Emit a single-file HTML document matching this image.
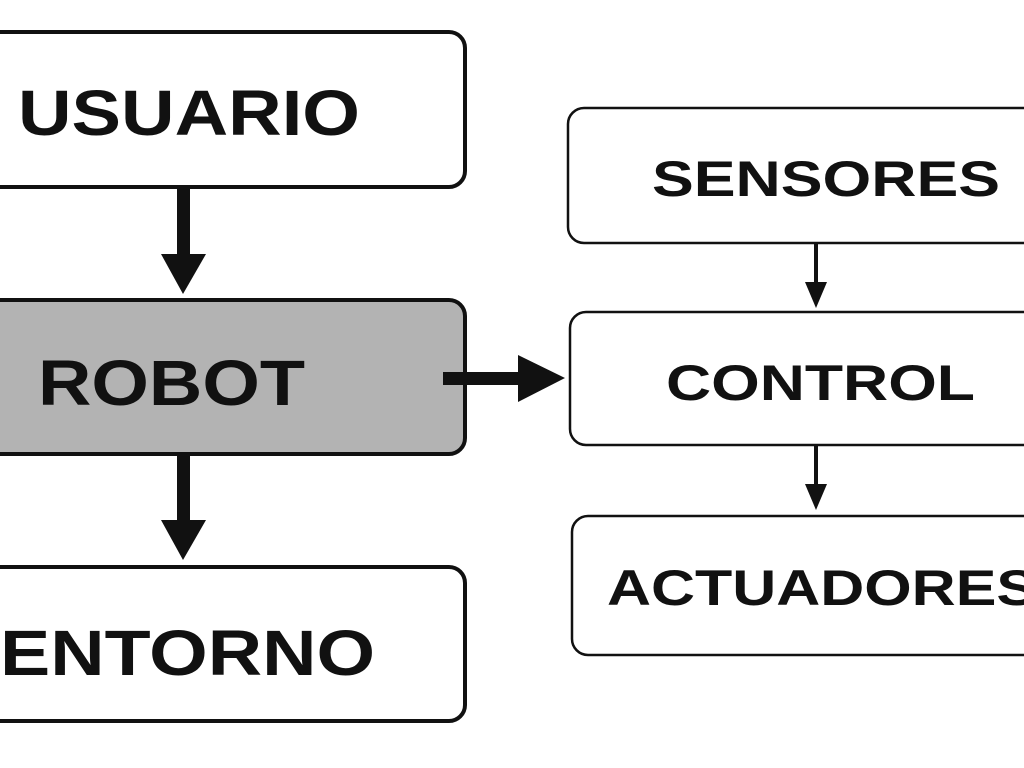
<!DOCTYPE html>
<html><head><meta charset="utf-8"><style>
html,body{margin:0;padding:0;background:#fff;width:1024px;height:768px;overflow:hidden}
text{font-family:"Liberation Sans",Arial,sans-serif;font-weight:bold;fill:#111}
</style></head><body>
<svg width="1024" height="768" viewBox="0 0 1024 768" xmlns="http://www.w3.org/2000/svg">
<rect width="1024" height="768" fill="#fff"/>
<rect x="-20" y="32" width="485" height="155" rx="16" fill="#fff" stroke="#111" stroke-width="4"/>
<rect x="-20" y="300" width="485" height="154" rx="16" fill="#b3b3b3" stroke="#111" stroke-width="4"/>
<rect x="-20" y="567" width="485" height="154" rx="16" fill="#fff" stroke="#111" stroke-width="4"/>
<text x="18" y="135" font-size="64" textLength="342" lengthAdjust="spacingAndGlyphs">USUARIO</text>
<text x="38" y="405" font-size="64" textLength="267" lengthAdjust="spacingAndGlyphs">ROBOT</text>
<text x="0" y="675" font-size="64" textLength="375" lengthAdjust="spacingAndGlyphs">ENTORNO</text>
<rect x="177" y="188" width="13" height="72" fill="#111"/>
<polygon points="161,254 206,254 183,294" fill="#111"/>
<rect x="177" y="455" width="13" height="72" fill="#111"/>
<polygon points="161,520 206,520 183,560" fill="#111"/>
<rect x="443" y="372" width="82" height="13" fill="#111"/>
<polygon points="518,355 518,402 565,378" fill="#111"/>
<rect x="568" y="108" width="480" height="135" rx="16" fill="#fff" stroke="#111" stroke-width="2.5"/>
<rect x="570" y="312" width="480" height="133" rx="16" fill="#fff" stroke="#111" stroke-width="2.5"/>
<rect x="572" y="516" width="480" height="139" rx="16" fill="#fff" stroke="#111" stroke-width="2.5"/>
<text x="652" y="196" font-size="50" textLength="348" lengthAdjust="spacingAndGlyphs">SENSORES</text>
<text x="666" y="400" font-size="50" textLength="309" lengthAdjust="spacingAndGlyphs">CONTROL</text>
<text x="607" y="605" font-size="50" textLength="430" lengthAdjust="spacingAndGlyphs">ACTUADORES</text>
<rect x="814" y="243" width="4" height="45" fill="#111"/>
<polygon points="805,282 827,282 816,308" fill="#111"/>
<rect x="814" y="445" width="4" height="45" fill="#111"/>
<polygon points="805,484 827,484 816,510" fill="#111"/>
</svg>
</body></html>
